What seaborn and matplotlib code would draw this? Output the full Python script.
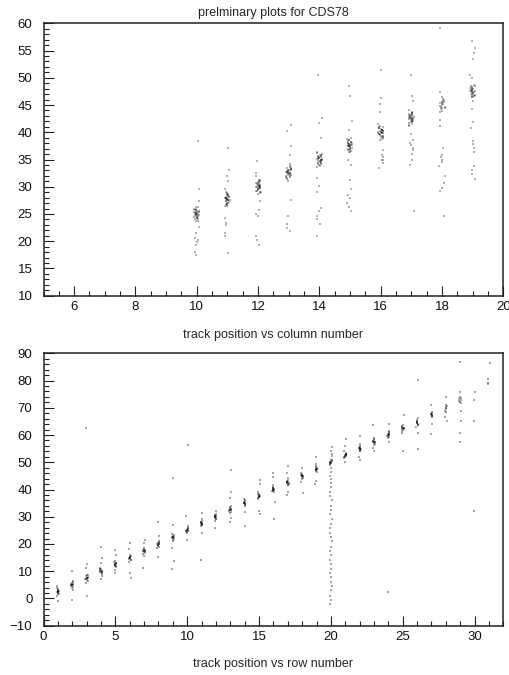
import numpy as np
import pandas as pd
import matplotlib
matplotlib.use("Agg")
import matplotlib.pyplot as plt
from matplotlib.ticker import MultipleLocator
import seaborn as sns

# hits per column (upper plot): track position readings
col_numbers = [10, 11, 12, 13, 14, 15, 16, 17, 18, 19]
col_hits = [
    [25.0, 24.7, 25.3, 24.4, 25.6, 24.9, 25.1, 24.1, 25.9, 24.6, 25.4, 24.8, 25.2, 23.8, 26.2, 25.5, 24.5, 24.3, 25.7, 25.05,
     24.95, 24.0, 26.0, 25.8, 24.2, 23.7, 26.3, 24.85, 25.15, 25.45,
     29.5, 38.4, 27.3, 22.6, 21.6, 20.6, 20.3, 19.8, 19.4, 18.0, 17.5],
    [27.7, 27.4, 28.0, 27.1, 28.3, 27.6, 27.8, 26.8, 28.6, 27.3, 28.1, 27.5, 27.9, 26.5, 28.9, 28.2, 27.2, 27.0, 28.4, 27.75,
     27.65, 26.7, 28.7, 28.5, 26.9, 26.4, 29.0, 27.55, 27.85, 28.15,
     37.2, 33.0, 31.9, 31.0, 29.6, 24.3, 23.4, 22.9, 21.6, 20.9, 17.9],
    [30.0, 29.7, 30.3, 29.4, 30.6, 29.9, 30.1, 29.1, 30.9, 29.6, 30.4, 29.8, 30.2, 28.8, 31.2, 30.5, 29.5, 29.3, 30.7, 30.05,
     29.95, 29.0, 31.0, 30.8, 29.2, 28.7, 31.3, 29.85, 30.15, 30.45,
     34.7, 32.6, 32.0, 27.3, 25.8, 25.0, 24.7, 20.9, 20.3, 19.4],
    [32.6, 32.3, 32.9, 32.0, 33.2, 32.5, 32.7, 31.7, 33.5, 32.2, 33.0, 32.4, 32.8, 31.4, 33.8, 33.1, 32.1, 31.9, 33.3, 32.65,
     32.55, 31.6, 33.6, 33.4, 31.8, 31.1, 34.1, 32.45, 32.75, 33.05,
     41.3, 40.2, 37.4, 35.8, 27.6, 24.6, 23.1, 22.5, 21.9],
    [35.0, 34.7, 35.3, 34.4, 35.6, 34.9, 35.1, 34.1, 35.9, 34.6, 35.4, 34.8, 35.2, 33.8, 36.2, 35.5, 34.5, 34.3, 35.7, 35.05,
     34.95, 34.0, 36.0, 35.8, 34.2, 33.6, 36.4, 34.85, 35.15, 35.45,
     50.5, 42.7, 41.7, 39.0, 31.6, 30.1, 29.1, 26.1, 25.5, 24.6, 24.0, 23.2, 20.9],
    [37.6, 37.3, 37.9, 37.0, 38.2, 37.5, 37.7, 36.7, 38.5, 37.2, 38.0, 37.4, 37.8, 36.4, 38.8, 38.1, 37.1, 36.9, 38.3, 37.65,
     37.55, 36.6, 38.6, 38.4, 36.8, 36.3, 38.9, 37.45, 37.75, 38.05,
     48.5, 46.6, 42.0, 40.5, 35.0, 34.0, 31.3, 29.5, 28.5, 28.0, 27.0, 26.3, 25.5],
    [40.0, 39.7, 40.3, 39.4, 40.6, 39.9, 40.1, 39.1, 40.9, 39.6, 40.4, 39.8, 40.2, 38.8, 41.2, 40.5, 39.5, 39.3, 40.7, 40.05,
     39.95, 39.0, 41.0, 40.8, 39.2, 38.6, 41.5, 39.85, 40.15, 40.45,
     51.5, 46.3, 45.2, 43.7, 36.8, 35.9, 35.0, 34.4, 33.5, 34.9, 35.5],
    [42.6, 42.3, 42.9, 42.0, 43.2, 42.5, 42.7, 41.7, 43.5, 42.2, 43.0, 42.4, 42.8, 41.4, 43.8, 43.1, 42.1, 41.9, 43.3, 42.65,
     42.55, 41.6, 43.6, 43.4, 41.8, 41.2, 44.0, 42.45, 42.75, 43.05,
     50.6, 46.6, 45.7, 39.6, 38.5, 37.6, 36.7, 36.1, 34.9, 34.0, 25.5, 37.2, 38.0],
    [45.0, 44.6, 45.4, 44.2, 45.8, 44.9, 45.1, 43.9, 46.1, 44.5, 45.5, 44.7, 45.3, 43.7, 46.4, 45.6, 44.4, 46.0,
     59.2, 47.4, 42.3, 41.1, 37.1, 35.9, 35.0, 34.5, 33.8, 35.4, 31.9, 30.7, 29.8, 29.2, 24.6],
    [47.5, 47.2, 47.8, 46.9, 48.1, 47.4, 47.6, 46.6, 48.4, 47.1, 47.9, 47.3, 47.7, 46.4, 48.7, 48.0, 47.0, 46.8, 48.2, 47.55,
     47.45, 46.5, 48.5, 48.3, 46.7,
     56.7, 55.5, 54.6, 53.4, 50.5, 49.9, 45.8, 44.2, 41.8, 40.8, 38.4, 37.8, 37.2, 36.3, 33.8, 33.0, 32.4, 31.5],
]

# hits per row (lower plot)
row_numbers = list(range(1, 32))
row_hits = [
    [2.5, 2.1, 2.9, 1.8, 3.2, 2.4, 2.6, 1.5, 3.5, 2.3, 2.7, 3.8, 4.4, 1.0, -1.1],
    [5.0, 4.6, 5.4, 4.3, 5.7, 4.9, 5.1, 4.0, 6.0, 4.8, 5.2, 6.3, 10.0, 3.2, -0.5],
    [7.5, 7.1, 7.9, 6.8, 8.2, 7.4, 7.6, 6.5, 8.5, 7.3, 7.7, 8.8, 12.7, 11.2, 5.7, 0.9, 62.5],
    [10.0, 9.6, 10.4, 9.3, 10.7, 9.9, 10.1, 9.0, 11.0, 9.8, 10.2, 11.3, 18.9, 14.8, 13.0, 8.2, 7.0],
    [12.5, 12.1, 12.9, 11.8, 13.2, 12.4, 12.6, 11.5, 13.5, 12.3, 12.7, 13.8, 17.9, 16.0, 10.6, 9.5],
    [15.0, 14.6, 15.4, 14.3, 15.7, 14.9, 15.1, 14.0, 16.0, 14.8, 15.2, 13.3, 20.4, 18.0, 9.5, 7.7],
    [17.5, 17.1, 17.9, 16.8, 18.2, 17.4, 17.6, 16.5, 18.5, 17.3, 17.7, 15.6, 21.6, 11.2, 20.2],
    [20.0, 19.6, 20.4, 19.3, 20.7, 19.9, 20.1, 19.0, 21.0, 19.8, 20.2, 18.6, 27.9, 23.0, 15.3],
    [22.5, 22.1, 22.9, 21.8, 23.2, 22.4, 22.6, 21.5, 23.5, 22.3, 22.7, 21.2, 44.1, 26.9, 18.5, 13.6, 11.0],
    [25.0, 24.6, 25.4, 24.3, 25.7, 24.9, 25.1, 24.0, 26.0, 24.8, 25.2, 26.5, 56.3, 30.1, 21.6],
    [27.5, 27.1, 27.9, 26.8, 28.2, 27.4, 27.6, 26.5, 28.5, 27.3, 27.7, 29.0, 31.5, 24.0, 14.3],
    [30.0, 29.6, 30.4, 29.3, 30.7, 29.9, 30.1, 29.0, 31.0, 29.8, 30.2, 28.6, 32.2, 25.7],
    [32.5, 32.1, 32.9, 31.8, 33.2, 32.4, 32.6, 31.5, 33.5, 32.3, 32.7, 34.0, 47.2, 39.2, 36.8, 29.4, 28.2],
    [35.0, 34.6, 35.4, 34.3, 35.7, 34.9, 35.1, 34.0, 36.0, 34.8, 35.2, 36.5, 31.6, 26.7],
    [37.5, 37.1, 37.9, 36.8, 38.2, 37.4, 37.6, 36.5, 38.5, 37.3, 37.7, 39.0, 43.5, 42.0, 32.2, 31.0],
    [40.0, 39.6, 40.4, 39.3, 40.7, 39.9, 40.1, 39.0, 41.0, 39.8, 40.2, 41.6, 45.9, 44.5, 35.5, 29.0],
    [42.5, 42.1, 42.9, 41.8, 43.2, 42.4, 42.6, 41.5, 43.5, 42.3, 42.7, 44.2, 48.5, 45.9, 39.2, 38.0],
    [45.0, 44.6, 45.4, 44.3, 45.7, 44.9, 45.1, 44.0, 46.0, 44.8, 45.2, 47.9, 42.8, 38.6],
    [47.5, 47.1, 47.9, 46.8, 48.2, 47.4, 47.6, 46.5, 48.5, 47.3, 47.7, 52.0, 49.5, 43.0, 42.0],
    [50.0, 49.6, 50.4, 49.3, 50.7, 49.9, 50.1, 49.0, 51.0, 49.8, 50.2,
     55.5, 54.0, 53.0, 52.2, 48.0, 46.5, 45.0, 44.0, 42.5, 41.0, 39.0, 37.5, 36.0, 34.0, 32.5, 31.0, 29.0, 27.5,
     26.0, 24.0, 22.5, 21.0, 19.0, 17.5, 16.0, 14.0, 12.5, 11.0, 9.5, 8.0, 6.0, 4.5, 3.0, 1.0, -0.5, -2.0],
    [52.5, 52.1, 52.9, 51.8, 53.2, 52.4, 52.6, 51.5, 53.5, 52.3, 52.7, 54.1, 58.4, 56.0, 50.0],
    [55.0, 54.6, 55.4, 54.3, 55.7, 54.9, 55.1, 54.0, 56.0, 54.8, 55.2, 56.8, 59.8, 51.0, 52.0],
    [57.5, 57.1, 57.9, 56.8, 58.2, 57.4, 57.6, 56.5, 58.5, 57.3, 57.7, 59.0, 63.6, 55.3, 54.0],
    [60.0, 59.6, 60.4, 59.3, 60.7, 59.9, 60.1, 59.0, 61.0, 59.8, 60.2, 61.5, 64.2, 57.3, 2.5],
    [62.5, 62.1, 62.9, 61.8, 63.2, 62.4, 62.6, 61.5, 63.5, 62.3, 62.7, 60.8, 67.4, 54.1],
    [64.5, 64.1, 64.9, 63.8, 65.2, 64.4, 64.6, 63.5, 65.5, 66.2, 62.9, 80.3, 60.8, 54.7],
    [67.5, 67.1, 67.9, 66.8, 68.2, 67.4, 67.6, 66.5, 68.6, 71.0, 60.5, 64.0],
    [69.8, 69.4, 70.2, 69.0, 70.6, 68.5, 71.0, 73.9, 66.6, 65.0],
    [72.9, 72.5, 73.3, 72.1, 73.7, 74.1, 71.8, 86.9, 75.8, 69.0, 65.1, 60.8, 57.5],
    [75.8, 72.7, 65.1, 32.0],
    [86.6, 80.4, 79.2, 78.6],
]


def to_frame(numbers, hits):
    xs, ys = [], []
    for n, h in zip(numbers, hits):
        xs += [n] * len(h)
        ys += h
    return pd.DataFrame({"num": xs, "pos": ys})


top_df = to_frame(col_numbers, col_hits)
bot_df = to_frame(row_numbers, row_hits)

sns.set_style("ticks")
plt.rcParams["font.family"] = ["Liberation Sans", "DejaVu Sans"]
np.random.seed(3)  # reproducible strip jitter

fig = plt.figure(figsize=(5.1, 6.75), dpi=100)
ax1 = fig.add_axes([0.0853, 0.5619, 0.9016, 0.4036])
ax2 = fig.add_axes([0.0853, 0.0730, 0.9016, 0.4036])

sns.stripplot(data=top_df, x="num", y="pos", native_scale=True, orient="x", jitter=0.085,
              color="black", alpha=0.3, size=1.2, marker="s", linewidth=0, ax=ax1)
sns.stripplot(data=bot_df, x="num", y="pos", native_scale=True, orient="x", jitter=0.08,
              color="black", alpha=0.35, size=1.2, marker="s", linewidth=0, ax=ax2)

ax1.set_xlim(5, 20)
ax1.set_ylim(10, 60)
ax1.xaxis.set_major_locator(MultipleLocator(2))
ax1.xaxis.set_minor_locator(MultipleLocator(0.5))
ax1.yaxis.set_major_locator(MultipleLocator(5))
ax1.yaxis.set_minor_locator(MultipleLocator(1))

ax2.set_xlim(0, 32)
ax2.set_ylim(-10, 90)
ax2.xaxis.set_major_locator(MultipleLocator(5))
ax2.xaxis.set_minor_locator(MultipleLocator(1))
ax2.yaxis.set_major_locator(MultipleLocator(10))
ax2.yaxis.set_minor_locator(MultipleLocator(2))

for ax in (ax1, ax2):
    ax.set_xlabel("")
    ax.set_ylabel("")
    for sp in ax.spines.values():
        sp.set_visible(True)
        sp.set_linewidth(1.1)
        sp.set_color("#222222")
    ax.tick_params(axis="both", which="both", direction="in", top=False, right=False,
                   color="#222222", width=0.8, labelsize=9.5, labelcolor="#111111")
    ax.tick_params(axis="both", which="major", length=7)
    ax.tick_params(axis="both", which="minor", length=3.5)
    ax.tick_params(axis="y", which="both", pad=8)
    ax.tick_params(axis="x", which="both", pad=4)

fig.text(0.536, 1 - 13 / 675, "prelminary plots for CDS78", ha="center", va="center", fontsize=9)
fig.text(0.536, 1 - 335 / 675, "track position vs column number", ha="center", va="center", fontsize=9)
fig.text(0.536, 1 - 664 / 675, "track position vs row number", ha="center", va="center", fontsize=9)

fig.savefig("out.png", dpi=100)
